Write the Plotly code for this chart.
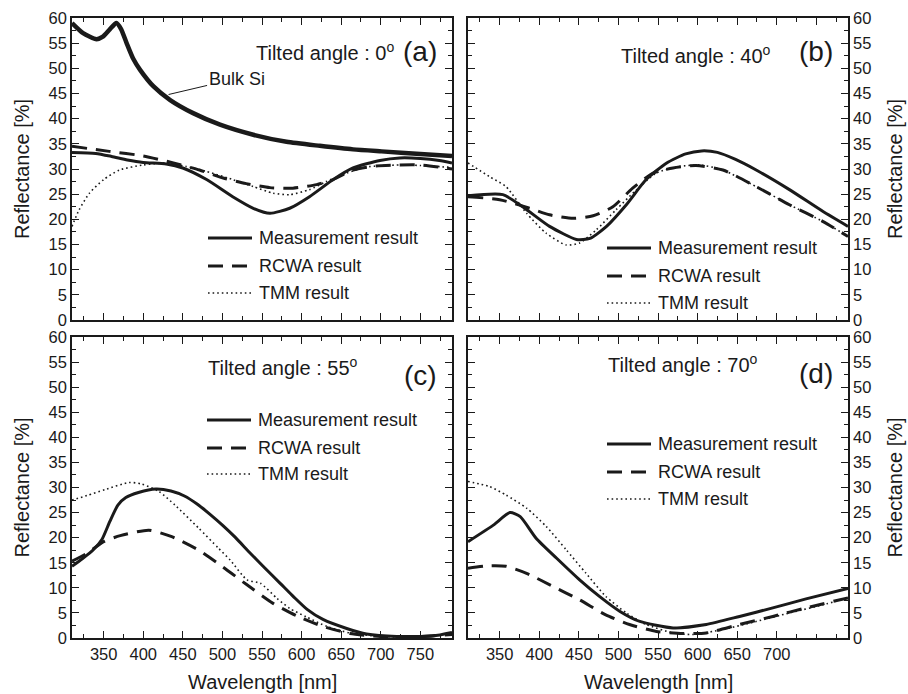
import plotly.graph_objects as go

# ---------------- data ----------------
# (a) tilted angle 0
a_bulk_wl = [310, 324, 341, 349, 358, 366, 372, 379, 387, 396, 413, 434, 463, 497, 539, 581, 623, 665, 701, 750, 790]
a_bulk_r = [59.0, 57.0, 55.8, 56.3, 57.8, 59.0, 57.8, 55.0, 52.0, 49.7, 46.4, 43.7, 41.1, 38.8, 36.8, 35.4, 34.6, 33.9, 33.5, 33.0, 32.6]
a_meas_wl = [310, 340, 360, 380, 400, 429, 450, 480, 513, 539, 560, 585, 610, 640, 665, 699, 724, 750, 774, 790]
a_meas_r = [33.3, 33.1, 32.5, 31.8, 31.3, 31.0, 30.2, 27.9, 24.5, 22.2, 21.2, 22.2, 24.5, 27.9, 30.2, 31.7, 32.2, 32.1, 31.7, 31.2]
a_rcwa_wl = [310, 357, 400, 438, 471, 501, 530, 560, 589, 619, 640, 665, 694, 724, 750, 790]
a_rcwa_r = [34.5, 33.5, 32.6, 31.2, 29.8, 28.2, 27.1, 26.3, 26.2, 26.9, 27.9, 29.8, 30.6, 30.8, 30.8, 30.0]
a_tmm_wl = [310, 319, 332, 350, 370, 400, 429, 454, 480, 513, 539, 564, 585, 610, 631, 657, 682, 724, 750, 790]
a_tmm_r = [18.6, 21.9, 25.2, 27.9, 29.8, 30.8, 31.2, 30.5, 29.5, 27.9, 26.5, 25.2, 24.9, 25.9, 27.5, 29.2, 30.4, 30.8, 30.7, 30.3]

# (b) tilted angle 40
b_meas_wl = [310, 354, 379, 413, 447, 464, 485, 510, 535, 561, 585, 605, 625, 648, 674, 716, 758, 790]
b_meas_r = [24.7, 24.9, 22.5, 18.6, 16.0, 16.2, 18.6, 22.9, 27.9, 31.2, 33.0, 33.6, 33.3, 31.9, 29.8, 25.9, 21.6, 18.6]
b_rcwa_wl = [310, 350, 388, 413, 443, 468, 493, 518, 544, 569, 598, 632, 674, 716, 758, 790]
b_rcwa_r = [24.5, 23.9, 22.2, 20.9, 20.2, 20.7, 22.5, 26.2, 29.2, 30.2, 30.7, 29.8, 26.5, 22.9, 19.6, 16.6]
b_tmm_wl = [310, 337, 358, 384, 409, 434, 451, 472, 497, 523, 548, 577, 603, 632, 674, 716, 758, 790]
b_tmm_r = [31.2, 28.5, 26.5, 21.2, 17.2, 14.9, 15.3, 17.9, 21.9, 25.9, 29.2, 30.5, 30.8, 29.8, 26.5, 22.9, 19.6, 16.6]

# (c) tilted angle 55
c_meas_wl = [310, 323, 337, 348, 358, 368, 378, 394, 416, 435, 452, 468, 484, 500, 516, 534, 552, 573, 590, 607, 627, 657, 682, 720, 766, 790]
c_meas_r = [14.3, 15.8, 17.6, 19.7, 23.3, 26.5, 28.0, 29.0, 29.7, 29.3, 28.3, 26.7, 24.7, 22.5, 20.1, 17.1, 14.2, 10.9, 8.2, 5.7, 3.7, 1.9, 0.8, 0.3, 0.4, 1.1]
c_rcwa_wl = [310, 329, 350, 371, 407, 436, 470, 501, 531, 564, 594, 627, 661, 700, 740, 790]
c_rcwa_r = [15.3, 16.9, 19.2, 20.4, 21.5, 20.2, 17.5, 14.1, 10.6, 6.9, 4.4, 2.3, 0.9, 0.3, 0.2, 0.7]
c_tmm_wl = [310, 329, 352, 382, 398, 420, 440, 470, 495, 510, 531, 548, 569, 585, 606, 632, 661, 700, 740, 790]
c_tmm_r = [27.5, 28.4, 29.6, 31.0, 30.7, 29.2, 26.5, 21.9, 17.9, 15.5, 11.6, 10.9, 7.9, 5.9, 4.2, 2.3, 1.0, 0.3, 0.2, 0.9]

# (d) tilted angle 70
d_meas_wl = [310, 342, 363, 376, 396, 422, 451, 476, 502, 527, 569, 611, 653, 695, 737, 790]
d_meas_r = [19.2, 22.5, 25.0, 24.2, 19.9, 15.9, 11.6, 8.3, 5.3, 3.3, 2.0, 2.7, 4.3, 6.0, 7.8, 9.9]
d_rcwa_wl = [310, 337, 358, 384, 417, 451, 484, 514, 548, 582, 611, 653, 695, 737, 790]
d_rcwa_r = [13.9, 14.4, 14.3, 12.9, 10.3, 7.6, 4.6, 2.7, 1.3, 0.9, 1.0, 2.7, 4.3, 6.0, 8.0]
d_tmm_wl = [310, 337, 358, 384, 409, 434, 459, 484, 510, 535, 569, 594, 632, 674, 716, 758, 790]
d_tmm_r = [31.2, 30.2, 28.5, 25.9, 22.2, 17.6, 12.9, 8.3, 5.0, 2.7, 1.0, 0.7, 1.7, 3.3, 5.0, 6.6, 8.0]

series_names = ["Measurement result", "RCWA result", "TMM result"]
angle_labels = ["Tilted angle : 0<sup>o</sup>", "Tilted angle : 40<sup>o</sup>",
                "Tilted angle : 55<sup>o</sup>", "Tilted angle : 70<sup>o</sup>"]
panel_letters = ["(a)", "(b)", "(c)", "(d)"]
y_ticks = list(range(0, 61, 5))
x_ticks_c = [350, 400, 450, 500, 550, 600, 650, 700, 750]
x_ticks_d = [350, 400, 450, 500, 550, 600, 650, 700]

# ---------------- figure ----------------
W, H = 908, 694
INK = "#1a1a1a"
FONT = "Liberation Sans, Arial, sans-serif"

def px_x(p):
    return p / W

def px_y(p):
    return 1 - p / H

panels = {
    1: dict(xd=[px_x(72), px_x(452)], yd=[px_y(320), px_y(18)], side="left"),
    2: dict(xd=[px_x(468), px_x(848)], yd=[px_y(320), px_y(18)], side="right"),
    3: dict(xd=[px_x(72), px_x(452)], yd=[px_y(638), px_y(337)], side="left"),
    4: dict(xd=[px_x(468), px_x(848)], yd=[px_y(638), px_y(337)], side="right"),
}

fig = go.Figure()

meas_style = dict(color=INK, width=3)
rcwa_style = dict(color=INK, width=3, dash="15px,9px")
tmm_style = dict(color=INK, width=1.6, dash="1.6px,3px")

data_sets = {
    1: [(a_meas_wl, a_meas_r), (a_rcwa_wl, a_rcwa_r), (a_tmm_wl, a_tmm_r)],
    2: [(b_meas_wl, b_meas_r), (b_rcwa_wl, b_rcwa_r), (b_tmm_wl, b_tmm_r)],
    3: [(c_meas_wl, c_meas_r), (c_rcwa_wl, c_rcwa_r), (c_tmm_wl, c_tmm_r)],
    4: [(d_meas_wl, d_meas_r), (d_rcwa_wl, d_rcwa_r), (d_tmm_wl, d_tmm_r)],
}
styles = [meas_style, rcwa_style, tmm_style]

for k in range(1, 5):
    xa = "x" if k == 1 else f"x{k}"
    ya = "y" if k == 1 else f"y{k}"
    for idx in [2, 1, 0]:
        wl, r = data_sets[k][idx]
        fig.add_trace(go.Scatter(x=wl, y=r, mode="lines", name=series_names[idx],
                                 line=dict(**styles[idx], shape="spline", smoothing=0.6),
                                 xaxis=xa, yaxis=ya, showlegend=False))

fig.add_trace(go.Scatter(x=a_bulk_wl, y=a_bulk_r, mode="lines", name="Bulk Si",
                         line=dict(color=INK, width=4.5, shape="spline", smoothing=0.6),
                         xaxis="x", yaxis="y", showlegend=False))

layout = dict(width=W, height=H, margin=dict(l=0, r=0, t=0, b=0),
              paper_bgcolor="white", plot_bgcolor="white",
              font=dict(family=FONT, color=INK, size=16), showlegend=False)

for k, p in panels.items():
    xk = "xaxis" if k == 1 else f"xaxis{k}"
    yk = "yaxis" if k == 1 else f"yaxis{k}"
    ya = "y" if k == 1 else f"y{k}"
    xa = "x" if k == 1 else f"x{k}"
    show_x = k in (3, 4)
    layout[xk] = dict(domain=p["xd"], anchor=ya, range=[310, 790],
                      tickvals=x_ticks_d if k == 4 else x_ticks_c,
                      showticklabels=show_x,
                      ticks="inside", ticklen=7, tickwidth=1.3, tickcolor=INK,
                      minor=dict(ticks="inside", ticklen=4, tickwidth=1.2, dtick=25, tick0=300, tickcolor=INK),
                      showline=True, linecolor=INK, linewidth=1.6, mirror="allticks",
                      showgrid=False, zeroline=False, automargin=False,
                      tickfont=dict(size=16.5))
    layout[yk] = dict(domain=p["yd"], anchor=xa, range=[0, 60], side=p["side"],
                      tickvals=y_ticks,
                      ticks="inside", ticklen=7, tickwidth=1.3, tickcolor=INK,
                      minor=dict(ticks="inside", ticklen=4, tickwidth=1.2, dtick=2.5, tick0=0, tickcolor=INK),
                      showline=True, linecolor=INK, linewidth=1.6, mirror="allticks",
                      showgrid=False, zeroline=False, automargin=False,
                      tickfont=dict(size=16.5))

fig.update_layout(**layout)

annotations = []
shapes = []

# y-axis titles
for k, xc in [(1, 22), (3, 22), (2, 895), (4, 895)]:
    p = panels[k]
    yc = (p["yd"][0] + p["yd"][1]) / 2
    annotations.append(dict(text="Reflectance [%]", x=px_x(xc), y=yc, xref="paper", yref="paper",
                            textangle=-90, showarrow=False, font=dict(size=20),
                            xanchor="center", yanchor="middle"))
# x-axis titles
for k in (3, 4):
    p = panels[k]
    xc = (p["xd"][0] + p["xd"][1]) / 2
    annotations.append(dict(text="Wavelength [nm]", x=xc, y=px_y(682), xref="paper", yref="paper",
                            showarrow=False, font=dict(size=20), xanchor="center", yanchor="middle"))

# angle labels and panel letters
angle_pos = [(254, 52), (619, 55), (206, 367), (606, 363)]
letter_pos = [(420, 52), (816, 52), (420, 375), (816, 373)]
for i in range(4):
    ax_, ay_ = angle_pos[i]
    annotations.append(dict(text=angle_labels[i], x=px_x(ax_), y=px_y(ay_), xref="paper", yref="paper",
                            showarrow=False, font=dict(size=20), xanchor="left", yanchor="middle"))
    lx, ly = letter_pos[i]
    annotations.append(dict(text=panel_letters[i], x=px_x(lx), y=px_y(ly), xref="paper", yref="paper",
                            showarrow=False, font=dict(size=28), xanchor="center", yanchor="middle"))

# in-panel legends
legend_pos = [(208, [238, 266, 293]), (607, [248, 276, 303]), (207, [420, 448, 474]), (607, [444, 472, 499])]
leg_styles = [meas_style, rcwa_style, tmm_style]
for x0, ys in legend_pos:
    for j, yy in enumerate(ys):
        shapes.append(dict(type="line", xref="paper", yref="paper",
                           x0=px_x(x0), x1=px_x(x0 + 44), y0=px_y(yy), y1=px_y(yy),
                           line=leg_styles[j]))
        annotations.append(dict(text=series_names[j], x=px_x(x0 + 49), y=px_y(yy), xref="paper", yref="paper",
                                showarrow=False, font=dict(size=18), xanchor="left", yanchor="middle"))

# Bulk Si label
annotations.append(dict(text="Bulk Si", x=432, y=44.8, xref="x", yref="y", ax=68, ay=-16,
                        showarrow=True, arrowhead=0, arrowwidth=1, arrowcolor=INK,
                        font=dict(size=18), xanchor="center", yanchor="middle"))

fig.update_layout(annotations=annotations, shapes=shapes)

fig.write_html("out.html", config={"displayModeBar": False},
               post_script="document.body.style.margin='0';document.body.style.padding='0';")
